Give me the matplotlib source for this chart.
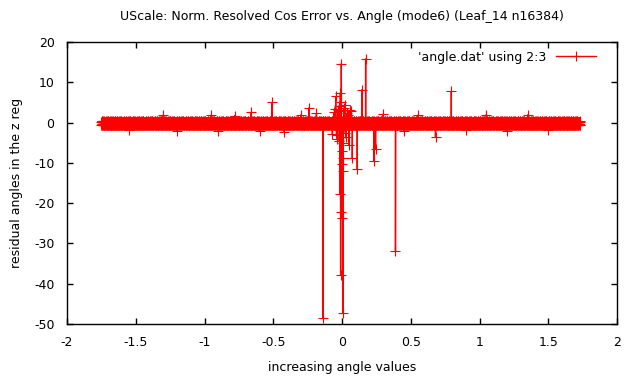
import numpy as np
import matplotlib
matplotlib.use('Agg')
import matplotlib.pyplot as plt

# dense low-residual band (typed pattern, laid along the sorted angle range)
band_start = -1.75
band_end = 1.73
band_count = 4000
band_pattern = [0.15, -0.5, 0.28, -0.55, 0.1, -0.38, 0.3, -0.58, 0.15, -0.3,
                -0.6, 0.25, -0.45, 0.18, -0.52, 0.2, -0.3, 0.32, -0.48, 0.28,
                -0.4, 0.08, -0.58, 0.22, -0.32, 0.05, -0.5, 0.24, -0.62, 0.12,
                -0.36, 0.15, -0.55, 0.26, -0.35, 0.1, -0.45]

# small excursions just outside the band
stub_x = [-1.55, -1.3, -1.2, -0.95, -0.9, -0.78, -0.66, -0.6, -0.42, -0.3,
          -0.07, -0.06, -0.05, -0.04, -0.035, -0.025, -0.018, 0.01, 0.012, 0.015,
          0.025, 0.03, 0.038, 0.045, 0.05, 0.058,
          0.3, 0.45, 0.55, 0.9, 1.05, 1.2, 1.35, 1.5]
stub_y = [-1.9, 1.8, -2.0, 1.9, -2.2, 1.7, 2.6, -2.0, -2.3, 1.9,
          -2.8, 2.5, 3.4, -3.0, -4.0, 4.0, 2.8, -5.0, 3.6, 3.0,
          -2.6, -3.5, 2.4, 2.0, -5.5, 3.0,
          2.1, -2.1, 1.8, -1.9, 2.0, -2.0, 1.9, -1.8]

# large outliers
spike_x = [-0.51, -0.239, -0.186, -0.138, -0.046, -0.03, -0.02, -0.015, -0.012, -0.01,
           -0.008, -0.005, -0.004, -0.003, 0.0, 0.002, 0.004, 0.006, 0.007, 0.02,
           0.063, 0.075, 0.111, 0.147, 0.172, 0.232, 0.244, 0.389, 0.68, 0.795]
spike_y = [5.05, 3.7, 2.3, -48.6, 6.5, 3.2, -4.5, -17.7, 7.4, -37.8,
           5.0, 14.6, -22.3, -7.0, -23.8, -10.3, -8.8, -12.0, -47.3, 4.3,
           2.8, -8.8, -11.5, 8.2, 15.8, -9.5, -6.6, -32.0, -3.5, 7.8]

xticks = [-2, -1.5, -1, -0.5, 0, 0.5, 1, 1.5, 2]
xtick_labels = ['-2', '-1.5', '-1', '-0.5', '0', '0.5', '1', '1.5', '2']
yticks = [-50, -40, -30, -20, -10, 0, 10, 20]
ytick_labels = ['-50', '-40', '-30', '-20', '-10', '0', '10', '20']

band_x = np.linspace(band_start, band_end, band_count)
band_y = np.resize(np.array(band_pattern), band_count)

x = np.concatenate([band_x, stub_x, spike_x])
y = np.concatenate([band_y, stub_y, spike_y])
order = np.argsort(x, kind='stable')
x = x[order]
y = y[order]

plt.rcParams['font.family'] = ['DejaVu Sans']
plt.rcParams['path.simplify'] = False
fig = plt.figure(figsize=(6.24, 3.78), dpi=100)
ax = fig.add_axes([67/624, 1-324/378, 550/624, 282/378])

ax.plot(x, y, '-+', color='#ff0000', lw=1, ms=6.5, mew=0.8,
        label="'angle.dat' using 2:3")

ax.set_xlim(-2, 2)
ax.set_ylim(-50, 20)
ax.set_xticks(xticks)
ax.set_xticklabels(xtick_labels)
ax.set_yticks(yticks)
ax.set_yticklabels(ytick_labels)
ax.tick_params(direction='in', top=True, right=True, length=4, width=1, labelsize=9)
ax.tick_params(axis='x', pad=9)
ax.tick_params(axis='y', pad=9)
for s in ax.spines.values():
    s.set_linewidth(1)

ax.set_title('UScale: Norm. Resolved Cos Error vs. Angle (mode6) (Leaf_14 n16384)', fontsize=9, pad=16)
ax.set_xlabel('increasing angle values', fontsize=9, labelpad=8)
ax.set_ylabel('residual angles in the z reg', fontsize=9, labelpad=8)

ax.legend(loc='upper right', bbox_to_anchor=(0.9714, 0.9867), borderaxespad=0,
          frameon=False, fontsize=9, markerfirst=False, handlelength=3.2)

fig.savefig('out.png', dpi=100)
